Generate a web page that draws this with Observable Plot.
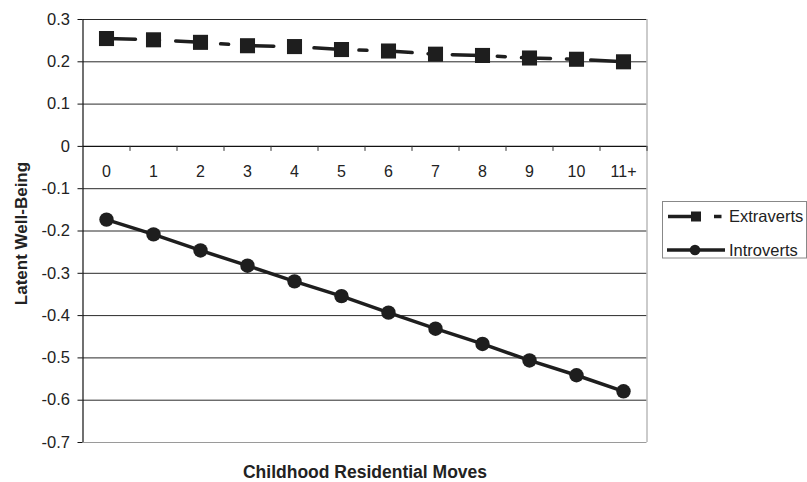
<!DOCTYPE html>
<html>
<head>
<meta charset="utf-8">
<script src="https://cdn.jsdelivr.net/npm/d3@7"></script>
<script src="https://cdn.jsdelivr.net/npm/@observablehq/plot@0.6"></script>
<style>
  html, body { margin: 0; padding: 0; background: #fff; }
  #wrap { position: relative; width: 807px; height: 482px; font-family: "Liberation Sans", Arial, sans-serif; }
  #legend { position: absolute; left: 662px; top: 201px; }
</style>
</head>
<body>
<div id="wrap"></div>
<script>
const categories = ["0", "1", "2", "3", "4", "5", "6", "7", "8", "9", "10", "11+"];
const extraverts = [0.255, 0.252, 0.246, 0.238, 0.236, 0.229, 0.2255, 0.218, 0.215, 0.209, 0.206, 0.200];
const introverts = [-0.173, -0.208, -0.246, -0.282, -0.319, -0.354, -0.393, -0.431, -0.467, -0.506, -0.541, -0.579];
const yTicks = [0.3, 0.2, 0.1, 0, -0.1, -0.2, -0.3, -0.4, -0.5, -0.6, -0.7];
const seriesNames = ["Extraverts", "Introverts"];

const idx = categories.map((_, i) => i);
const boundaries = idx.map(i => i + 0.5);
const extData = idx.map(i => ({x: i, y: extraverts[i]}));
const intData = idx.map(i => ({x: i, y: introverts[i]}));
const ink = "#1e1e1e";
const FONT = "Liberation Sans, Arial, sans-serif";

const chart = Plot.plot({
  width: 807,
  height: 482,
  marginLeft: 82.5,
  marginRight: 160.5,
  marginTop: 19,
  marginBottom: 40,
  style: {fontFamily: FONT, fontSize: "16px", color: "#222", background: "#fff"},
  x: {domain: [-0.5, 11.5], axis: null},
  y: {domain: [-0.7, 0.3], axis: null},
  marks: [
    Plot.ruleY(yTicks.filter(v => v !== 0 && v !== -0.7), {stroke: "#2a2a2a", strokeWidth: 1}),
    Plot.ruleY([-0.7], {stroke: "#9a9a9a", strokeWidth: 1.2}),
    Plot.ruleX([11.5], {stroke: "#a8a8a8", strokeWidth: 1.2}),
    Plot.ruleX([-0.5], {stroke: "#111", strokeWidth: 1.2}),
    Plot.ruleY([0], {stroke: "#111", strokeWidth: 1.2}),
    Plot.ruleX(boundaries, {x: d => d, y1: 0, y2: 0, insetBottom: -5, stroke: "#333"}),
    Plot.axisY({ticks: yTicks, label: null, tickSize: 5, tickPadding: 8, fontSize: 16.5,
      tickFormat: v => (Math.abs(v) < 1e-9 ? "0" : v.toFixed(1)), stroke: "#111", fill: "#222"}),
    Plot.text(idx, {x: d => d, y: 0, text: d => categories[d], dy: 25, fontSize: 16, fill: "#222"}),
    Plot.line(extData, {x: "x", y: "y", stroke: ink, strokeWidth: 3.5, strokeDasharray: "29,16,8,16.25"}),
    Plot.dot(extData, {x: "x", y: "y", symbol: "square", r: 8.5, fill: ink, stroke: "none"}),
    Plot.line(intData, {x: "x", y: "y", stroke: ink, strokeWidth: 3.5}),
    Plot.dot(intData, {x: "x", y: "y", r: 7.2, fill: ink, stroke: "none"}),
    Plot.text(["Latent Well-Being"], {frameAnchor: "left", textAnchor: "middle", lineAnchor: "middle", rotate: -90, dx: -61, dy: 2.5, fontWeight: "bold", fontSize: 17, fill: "#222"}),
    Plot.text(["Childhood Residential Moves"], {frameAnchor: "bottom", textAnchor: "middle", lineAnchor: "middle", dy: 30, fontWeight: "bold", fontSize: 17.5, fill: "#222"})
  ]
});

const wrap = document.getElementById("wrap");
wrap.appendChild(chart);

// Legend
const ns = "http://www.w3.org/2000/svg";
const lg = document.createElementNS(ns, "svg");
lg.setAttribute("id", "legend");
lg.setAttribute("width", 145);
lg.setAttribute("height", 58);
lg.innerHTML = `
  <rect x="0.5" y="0.5" width="144" height="56.5" fill="#fff" stroke="#888" stroke-width="1"/>
  <line x1="6" y1="15.5" x2="31" y2="15.5" stroke="${ink}" stroke-width="3.5"/>
  <rect x="29" y="10.5" width="10" height="10" fill="${ink}"/>
  <line x1="52" y1="15.5" x2="59.5" y2="15.5" stroke="${ink}" stroke-width="3.5"/>
  <text x="67" y="15.5" dy="0.35em" font-size="16.5" fill="#222" font-family="${FONT}">${seriesNames[0]}</text>
  <line x1="5" y1="49" x2="63" y2="49" stroke="${ink}" stroke-width="3.5"/>
  <circle cx="33" cy="49" r="5.3" fill="${ink}"/>
  <text x="67" y="49" dy="0.35em" font-size="16.5" fill="#222" font-family="${FONT}">${seriesNames[1]}</text>
`;
wrap.appendChild(lg);
</script>
</body>
</html>
